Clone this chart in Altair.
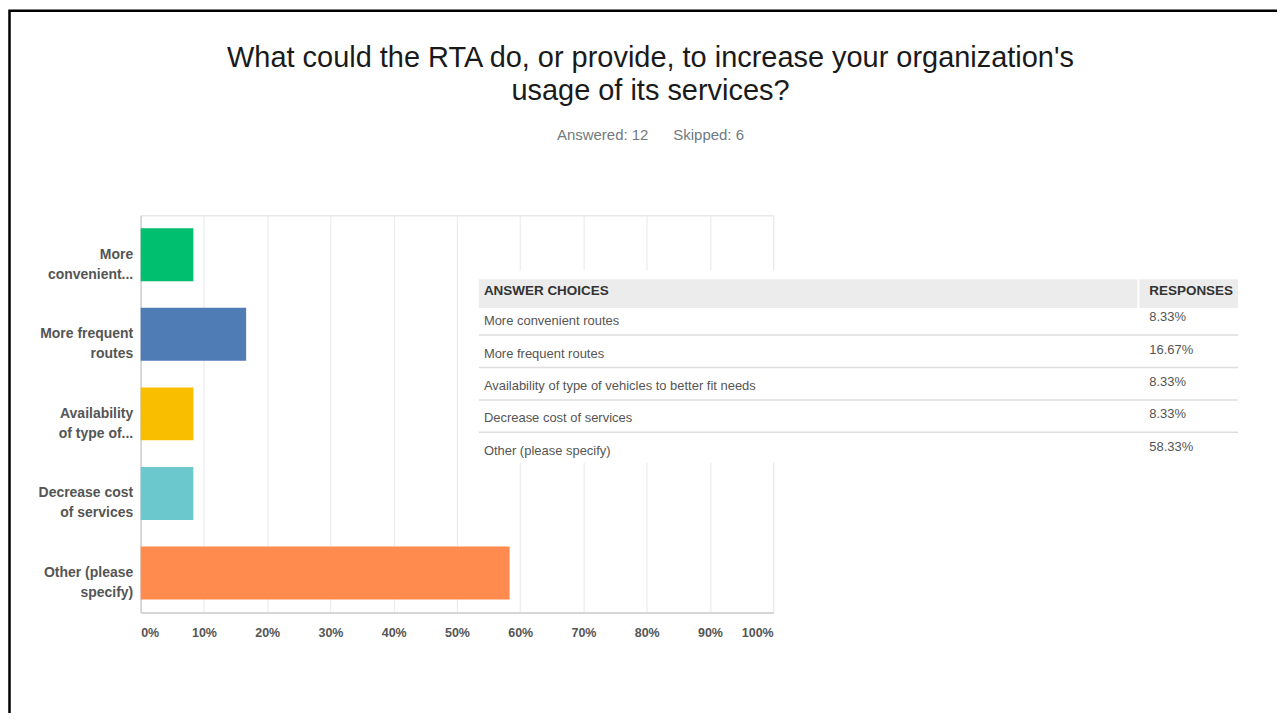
import altair as alt
import pandas as pd

# ---- data ----
choices = [
    "More convenient routes",
    "More frequent routes",
    "Availability of type of vehicles to better fit needs",
    "Decrease cost of services",
    "Other (please specify)",
]
axis_labels = [
    "More|convenient...",
    "More frequent|routes",
    "Availability|of type of...",
    "Decrease cost|of services",
    "Other (please|specify)",
]
responses = [8.33, 16.67, 8.33, 8.33, 58.33]
response_labels = ["8.33%", "16.67%", "8.33%", "8.33%", "58.33%"]
bar_colors = ["#00bf6f", "#507cb6", "#f9be00", "#6bc8cd", "#ff8b4f"]
x_ticks = [0, 10, 20, 30, 40, 50, 60, 70, 80, 90, 100]
header_left = "ANSWER CHOICES"
header_right = "RESPONSES"
title_lines = [
    "What could the RTA do, or provide, to increase your organization's",
    "usage of its services?",
]
subtitle = "Answered: 12\u00a0\u00a0\u00a0\u00a0\u00a0\u00a0Skipped: 6"

FONT = "Liberation Sans"

bars_df = pd.DataFrame({"label": axis_labels, "value": responses})
rows_df = pd.DataFrame({
    "row": list(range(1, len(choices) + 1)),
    "choice": choices,
    "resp": response_labels,
})
header_df = pd.DataFrame({"row": [0], "left": [header_left], "right": [header_right]})
one_df = pd.DataFrame({"k": [0]})

# ---- bar chart ----
bars = alt.Chart(bars_df).mark_bar().encode(
    x=alt.X(
        "value:Q",
        scale=alt.Scale(domain=[0, 100], nice=False),
        axis=alt.Axis(
            values=x_ticks,
            labelExpr="datum.value + '%'",
            grid=True,
            gridColor="#ececec",
            gridWidth=1.2,
            ticks=False,
            domainColor="#d6d6d6",
            domainWidth=2,
            labelFlush=True,
            labelPadding=14,
            labelFontSize=12.5,
            labelFontWeight="bold",
            labelColor="#555555",
            labelFont=FONT,
            title=None,
        ),
    ),
    y=alt.Y(
        "label:N",
        sort=axis_labels,
        scale=alt.Scale(paddingInner=0.335, paddingOuter=0.163),
        axis=alt.Axis(
            labelExpr="split(datum.label, '|')",
            labelLineHeight=20,
            labelFontSize=14,
            labelFontWeight="bold",
            labelColor="#555555",
            labelFont=FONT,
            labelPadding=8,
            ticks=False,
            domainColor="#d0d0d0",
            domainWidth=1.5,
            grid=False,
            title=None,
        ),
    ),
    color=alt.Color(
        "label:N",
        scale=alt.Scale(domain=axis_labels, range=bar_colors),
        legend=None,
    ),
)

# ---- table overlay (rows placed through their own row scale) ----
row_scale = alt.Scale(domain=[-2.2615, 9.9846], reverse=True, nice=False, zero=False)
TX0, TX1, TCOL = 339, 1100, 1000

backdrop = alt.Chart(rows_df).transform_aggregate(
    first="min(row)", last="max(row)"
).transform_calculate(
    top="datum.first - 1.57", bottom="datum.last + 0.37"
).mark_rect(color="white").encode(
    x=alt.value(TX0 - 4), x2=alt.value(TX1 + 4),
    y=alt.Y("top:Q", scale=row_scale, axis=None), y2="bottom:Q",
)

header_rect = alt.Chart(header_df).transform_calculate(
    top="datum.row - 0.29", bottom="datum.row + 0.6"
).mark_rect(color="#ececec").encode(
    x=alt.value(TX0), x2=alt.value(TX1),
    y=alt.Y("top:Q", scale=row_scale, axis=None), y2="bottom:Q",
)

header_sep = alt.Chart(header_df).transform_calculate(
    top="datum.row - 0.29", bottom="datum.row + 0.6"
).mark_rule(color="white", strokeWidth=2).encode(
    x=alt.value(TCOL),
    y=alt.Y("top:Q", scale=row_scale, axis=None), y2="bottom:Q",
)

separators = alt.Chart(rows_df).transform_filter(
    f"datum.row < {len(choices)}"
).transform_calculate(
    sep="datum.row + 0.43"
).mark_rule(color="#dedede", strokeWidth=1.5).encode(
    x=alt.value(TX0), x2=alt.value(TX1),
    y=alt.Y("sep:Q", scale=row_scale, axis=None),
)

head_left = alt.Chart(header_df).mark_text(
    align="left", baseline="middle", font=FONT, fontSize=13.5,
    fontWeight="bold", color="#333333", dy=2.5,
).encode(x=alt.value(TX0 + 5), y=alt.Y("row:Q", scale=row_scale, axis=None), text="left:N")

head_right = alt.Chart(header_df).mark_text(
    align="left", baseline="middle", font=FONT, fontSize=13.5,
    fontWeight="bold", color="#333333", dy=2.5,
).encode(x=alt.value(TCOL + 11), y=alt.Y("row:Q", scale=row_scale, axis=None), text="right:N")

choice_text = alt.Chart(rows_df).mark_text(
    align="left", baseline="middle", font=FONT, fontSize=13, color="#555555",
).encode(x=alt.value(TX0 + 5), y=alt.Y("row:Q", scale=row_scale, axis=None), text="choice:N")

resp_text = alt.Chart(rows_df).mark_text(
    align="left", baseline="middle", font=FONT, fontSize=13, color="#555555", dy=-4,
).encode(x=alt.value(TCOL + 11), y=alt.Y("row:Q", scale=row_scale, axis=None), text="resp:N")

table = alt.layer(backdrop, header_rect, header_sep, separators,
                  head_left, head_right, choice_text, resp_text)

# ---- slide frame ----
frame = alt.Chart(one_df).mark_rect(
    fillOpacity=0, stroke="black", strokeWidth=2.5
).encode(
    x=alt.value(-131.5), x2=alt.value(1300),
    y=alt.value(-205), y2=alt.value(700),
)

chart = alt.layer(bars, table, frame).resolve_scale(
    y="independent"
).properties(
    width=634,
    height=398,
    autosize=alt.AutoSizeParams(type="none"),
    padding={"left": 133, "top": 207, "right": 505, "bottom": 100},
    title=alt.TitleParams(
        text=title_lines,
        subtitle=subtitle,
        anchor="middle",
        frame="group",
        dx=194,
        offset=-134,
        font=FONT,
        fontSize=29,
        fontWeight="normal",
        color="#1a1a1a",
        lineHeight=33,
        subtitleFont=FONT,
        subtitleFontSize=15,
        subtitleColor="#6f7a80",
        subtitlePadding=22,
    ),
).configure_view(stroke=None).configure(background="white")

chart.save("out.html", embed_options={"renderer": "svg", "actions": False})
